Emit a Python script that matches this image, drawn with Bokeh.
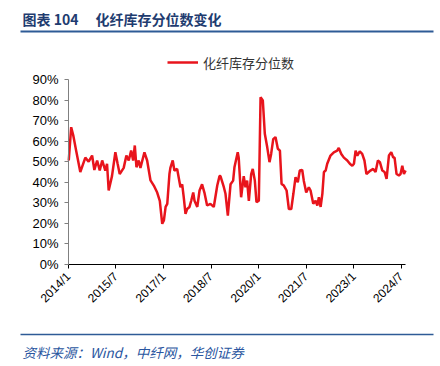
from datetime import datetime
from bokeh.plotting import figure
from bokeh.models import (ColumnDataSource, Range1d, FixedTicker, CustomJSTickFormatter,
                          PrintfTickFormatter, Legend, LegendItem, DatetimeAxis, LinearAxis)
from bokeh.core.properties import value
from bokeh.embed import file_html
from bokeh.resources import INLINE

title_no = "图表 104"
title_text = "化纤库存分位数变化"
series_name = "化纤库存分位数"
source_text = "资料来源：Wind，中纤网，华创证券"

dates = [
    "2014-01-04", "2014-02-01", "2014-02-24", "2014-04-01", "2014-05-17", "2014-07-14", "2014-08-21",
    "2014-09-30", "2014-10-26", "2014-11-27", "2014-12-27", "2015-01-24", "2015-03-01", "2015-03-21",
    "2015-04-09", "2015-05-17", "2015-06-25", "2015-07-21", "2015-08-14", "2015-09-29", "2015-10-30",
    "2015-11-26", "2015-12-24", "2016-01-16", "2016-02-04", "2016-02-23", "2016-03-20", "2016-04-09",
    "2016-05-25", "2016-06-25", "2016-08-03", "2016-09-10", "2016-10-19", "2016-11-18", "2016-12-16",
    "2017-01-04", "2017-01-24", "2017-02-12", "2017-03-09", "2017-03-20", "2017-04-16", "2017-05-05",
    "2017-06-06", "2017-07-14", "2017-08-03", "2017-08-21", "2017-09-10", "2017-09-29", "2017-10-26",
    "2017-11-15", "2017-12-08", "2017-12-23", "2018-01-24", "2018-02-19", "2018-03-20", "2018-04-16",
    "2018-05-17", "2018-06-24", "2018-08-02", "2018-09-11", "2018-10-07", "2018-10-18", "2018-11-26",
    "2018-12-15", "2019-01-11", "2019-02-11", "2019-03-13", "2019-03-28", "2019-05-05", "2019-05-16",
    "2019-06-13", "2019-07-13", "2019-08-02", "2019-08-21", "2019-09-10", "2019-10-07", "2019-10-25",
    "2019-11-18", "2019-12-07", "2020-01-03", "2020-01-23", "2020-02-18", "2020-03-12", "2020-04-09",
    "2020-05-05", "2020-05-24", "2020-06-17", "2020-07-13", "2020-08-09", "2020-09-02", "2020-09-21",
    "2020-10-17", "2020-11-18", "2020-12-14", "2021-01-11", "2021-02-04", "2021-03-01", "2021-03-27",
    "2021-04-19", "2021-05-17", "2021-06-04", "2021-07-02", "2021-08-01", "2021-08-21", "2021-09-21",
    "2021-10-18", "2021-11-07", "2021-11-25", "2021-12-15", "2022-01-04", "2022-01-22", "2022-02-11",
    "2022-03-01", "2022-04-08", "2022-05-16", "2022-06-24", "2022-07-12", "2022-08-10", "2022-09-09",
    "2022-10-18", "2022-11-17", "2022-12-15", "2023-01-03", "2023-01-22", "2023-02-11", "2023-03-11",
    "2023-04-08", "2023-05-04", "2023-05-27", "2023-07-12", "2023-08-13", "2023-09-09", "2023-10-06",
    "2023-10-29", "2023-11-26", "2023-12-22", "2024-01-14", "2024-02-10", "2024-03-08", "2024-03-31",
    "2024-04-15", "2024-05-08", "2024-06-04", "2024-06-23", "2024-07-13", "2024-08-01", "2024-08-20",
]
values = [
    50.6, 66.8, 63.0, 55.0, 45.0, 52.0, 50.0,
    53.0, 46.0, 50.6, 45.7, 50.6, 45.7, 49.0,
    36.0, 43.0, 54.6, 49.0, 44.0, 47.0, 53.0,
    50.6, 55.4, 50.6, 57.9, 47.3, 50.6, 47.0,
    54.6, 50.6, 40.9, 38.4, 35.0, 31.0, 19.8,
    21.4, 28.0, 29.5, 44.0, 47.0, 50.6, 45.7,
    46.5, 37.6, 39.0, 32.7, 24.6, 27.0, 28.0,
    31.0, 35.0, 31.0, 28.0, 36.0, 39.0, 35.0,
    28.7, 29.5, 28.0, 38.4, 43.0, 43.0, 37.6,
    34.4, 23.8, 39.0, 40.8, 47.3, 54.6, 52.0,
    32.7, 43.0, 37.6, 40.8, 31.0, 44.0, 46.5,
    40.8, 30.3, 31.0, 81.4, 79.8, 63.6, 57.0,
    49.8, 53.8, 61.0, 62.0, 56.3, 55.4, 39.2,
    38.4, 36.0, 27.0, 27.0, 34.4, 42.5, 40.0,
    45.7, 46.0, 40.8, 35.0, 37.6, 36.0, 29.5,
    31.0, 28.7, 32.7, 28.0, 34.4, 45.0, 45.7,
    49.0, 53.0, 54.6, 55.4, 56.7, 53.8, 52.0,
    50.6, 49.0, 48.0, 49.0, 55.4, 53.0, 55.0,
    53.8, 50.6, 44.0, 45.7, 46.5, 45.0, 50.6,
    49.8, 45.7, 45.0, 41.7, 53.0, 54.6, 52.0,
    52.0, 44.0, 43.3, 44.0, 48.0, 44.0, 45.7,
]
tick_dates = ["2014-01-01", "2015-07-01", "2017-01-01", "2018-07-01",
              "2020-01-01", "2021-07-01", "2023-01-01", "2024-07-01"]
tick_labels = ["2014/1", "2015/7", "2017/1", "2018/7", "2020/1", "2021/7", "2023/1", "2024/7"]
y_ticks = [0, 10, 20, 30, 40, 50, 60, 70, 80, 90]
x_start, x_end = "2014-01-01", "2024-08-19"
y_min, y_max = 0, 90

# ---- layout (pixels on the canvas) ----
W, H = 436, 362
PX_LEFT, PX_RIGHT = 68, 405      # plot area horizontal extent
PX_TOP, PX_BOTTOM = 79, 264      # plot area vertical extent
NAVY = "#1f3c70"
RULE = "#2e5b96"
RED = "#e8141c"
SRC_BLUE = "#2a56a0"

def to_dt(s):
    return datetime.strptime(s, "%Y-%m-%d")

def ms(s):
    return (to_dt(s) - datetime(1970, 1, 1)).total_seconds() * 1000.0

t0, t1 = ms(x_start), ms(x_end)
kx = (t1 - t0) / (PX_RIGHT - PX_LEFT)
ky = (y_max - y_min) / (PX_BOTTOM - PX_TOP)
xr = Range1d(t0 - PX_LEFT * kx, t1 + (W - PX_RIGHT) * kx)
yr = Range1d(y_min - (H - PX_BOTTOM) * ky, y_max + PX_TOP * ky)

src = ColumnDataSource(dict(x=[to_dt(d) for d in dates], y=values))
p = figure(width=W, height=H, output_backend="svg", toolbar_location=None,
           x_range=xr, y_range=yr, x_axis_location=None, y_axis_location=None,
           min_border=0, min_border_left=0, min_border_right=0,
           min_border_top=0, min_border_bottom=0, outline_line_color=None)
p.grid.visible = False
p.extra_x_ranges = {"px": Range1d(0, W)}
p.extra_y_ranges = {"px": Range1d(H, 0)}

r = p.line("x", "y", source=src, line_color=RED, line_width=2.5)

tick_ms = [ms(d) for d in tick_dates]
xaxis = DatetimeAxis(ticker=FixedTicker(ticks=tick_ms),
                     formatter=CustomJSTickFormatter(
                         args=dict(tvals=tick_ms, tlabels=tick_labels),
                         code="for (let i = 0; i < tvals.length; i++) { if (Math.abs(tvals[i] - tick) < 1e6) return tlabels[i]; } return '';"),
                     fixed_location=y_min, bounds=(t0, t1))
yaxis = LinearAxis(ticker=FixedTicker(ticks=y_ticks),
                   formatter=PrintfTickFormatter(format="%d%%"),
                   fixed_location=t0, bounds=(y_min, y_max))
xaxis.major_label_orientation = 0.785398
for ax in (xaxis, yaxis):
    ax.major_label_text_font = "Liberation Sans"
    ax.major_label_text_color = "#000000"
    ax.minor_tick_line_color = None
    ax.major_tick_in = 0
    ax.major_tick_out = 4
    ax.major_label_standoff = 6
xaxis.major_label_text_font_size = "12px"
yaxis.major_label_text_font_size = "13px"
xaxis.axis_line_color = "#000000"
xaxis.major_tick_line_color = "#000000"
yaxis.axis_line_color = "#808080"
yaxis.major_tick_line_color = "#808080"
p.add_layout(xaxis, "below")
p.add_layout(yaxis, "left")

legend = Legend(items=[LegendItem(label=series_name, renderers=[r])],
                orientation="horizontal", location=(167, H - 72),
                border_line_color=None, background_fill_alpha=0,
                glyph_width=31, glyph_height=20, label_height=20, label_standoff=5,
                padding=0, margin=0,
                label_text_font="Noto Sans CJK SC", label_text_font_size="13px",
                label_text_color="#333333")
p.add_layout(legend, "center")

# header and footer, drawn in canvas-pixel ranges
p.text(x=[22], y=[18], text=[title_no], text_font=value("Noto Sans CJK SC"),
       text_font_style="bold", text_font_size="14px", text_color=NAVY,
       text_baseline="middle", text_align="left", x_range_name="px", y_range_name="px")
p.text(x=[95], y=[18], text=[title_text], text_font=value("Noto Sans CJK SC"),
       text_font_style="bold", text_font_size="14px", text_color=NAVY,
       text_baseline="middle", text_align="left", x_range_name="px", y_range_name="px")
p.segment(x0=[20], y0=[31], x1=[433], y1=[31], line_color=RULE, line_width=2,
          x_range_name="px", y_range_name="px")
p.segment(x0=[20], y0=[334], x1=[433], y1=[334], line_color=RULE, line_width=1.5,
          x_range_name="px", y_range_name="px")
p.text(x=[22], y=[351], text=[source_text], text_font=value("Noto Sans CJK SC"),
       text_font_style="italic", text_font_size="13.5px", text_color=SRC_BLUE,
       text_baseline="middle", text_align="left", x_range_name="px", y_range_name="px")

open("out.html", "w").write(file_html(p, INLINE))
